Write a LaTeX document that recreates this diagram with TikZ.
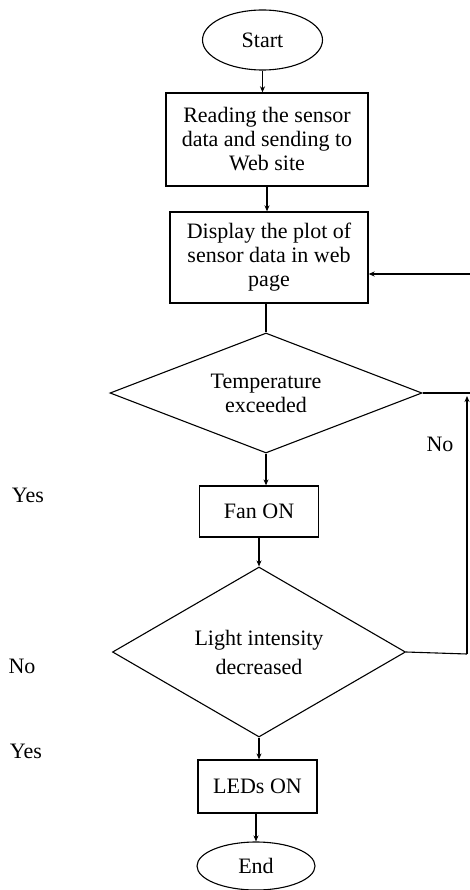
\documentclass[tikz,border=0pt]{standalone}
\usepackage{fontspec}
\setmainfont{Liberation Serif}
\usetikzlibrary{shapes.geometric,arrows.meta}
\begin{document}
\begin{tikzpicture}[x=1pt,y=-1pt,
  every node/.style={font=\fontsize{22}{24}\selectfont},
  box/.style={draw,line width=1.3pt,rectangle,inner sep=0pt,align=center},
  term/.style={draw,line width=1.1pt,ellipse,inner sep=0pt},
  dec/.style={draw,line width=1.1pt,diamond,inner sep=0pt,align=center},
  arr/.style={line width=1.1pt,-{Stealth[length=6pt,width=5pt]}},
  ln/.style={line width=1.1pt}]
\useasboundingbox (0,0) rectangle (470,890);
\node[term,minimum width=120pt,minimum height=60pt] (start) at (262.5,40) {Start};
\node[box,minimum width=202pt,minimum height=93pt] (b1) at (267,139.5) {Reading the sensor\\data and sending to\\Web site};
\node[box,minimum width=198pt,minimum height=91pt] (b2) at (269,257.5) {Display the plot of\\sensor data in web\\page};
\node[dec,minimum width=312pt,minimum height=120pt,shape aspect=2.6] (d1) at (266,393) {Temperature\\exceeded};
\node[box,minimum width=119pt,minimum height=51pt] (fan) at (259,511.5) {Fan ON};
\node[dec,minimum width=293pt,minimum height=170pt,shape aspect=1.7] (d2) at (259,652) {Light intensity\\[5pt]decreased};
\node[box,minimum width=119pt,minimum height=53pt] (led) at (257.5,786.5) {LEDs ON};
\node[term,minimum width=118pt,minimum height=48pt] (end) at (256,866) {End};

\node (yes1) at (28,495) {Yes};
\node (no1) at (440,444) {No};
\node (no2) at (22,666) {No};
\node (yes2) at (26,751) {Yes};

\coordinate (r1) at (470,393);
\coordinate (r2) at (467,654);
\coordinate (r3) at (467,396);
\coordinate (r4) at (470,274);

\draw[arr] (start) -- (start |- b1.north);
\draw[arr] (b1.south) -- (b1.south |- b2.north);
\draw[ln] (d1.north |- b2.south) -- (d1.north);
\draw[arr] (d1.south) -- (d1.south |- fan.north);
\draw[arr] (fan.south) -- (d2.north);
\draw[arr] (d2.south) -- (d2.south |- led.north);
\draw[arr] (led.south -| end.north) -- (end.north);
\draw[ln] (d1.east) -- (r1);
\draw[ln] (d2.east) -- (r2);
\draw[arr] (r2) -- (r3);
\draw[arr] (r4) -- (b2.east |- r4);
\end{tikzpicture}
\end{document}
